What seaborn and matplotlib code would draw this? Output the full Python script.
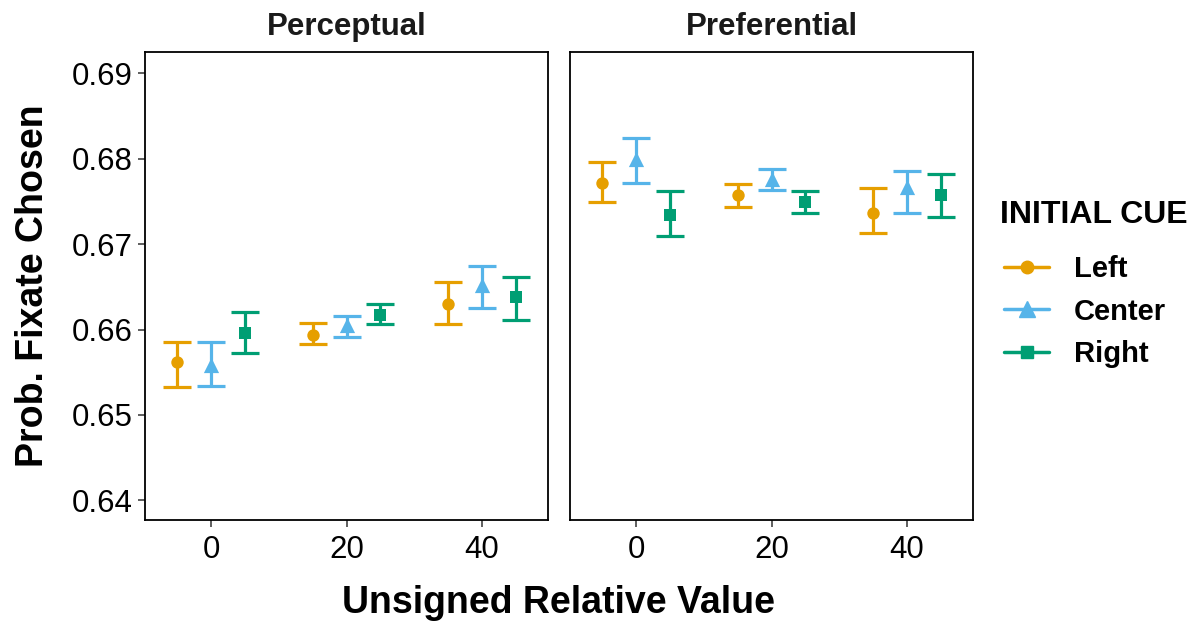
import numpy as np
import pandas as pd
import matplotlib
matplotlib.use("Agg")
import matplotlib.pyplot as plt
import seaborn as sns
from matplotlib.lines import Line2D

# ---- data ----
panels = ["Perceptual", "Preferential"]
cues = ["Left", "Center", "Right"]
values = [0, 20, 40]
offsets = {"Left": -5, "Center": 0, "Right": 5}

# Perceptual: per cue, per value (0, 20, 40)
perc_mean = {"Left": [0.6562, 0.6594, 0.6630],
             "Center": [0.6558, 0.6605, 0.6652],
             "Right": [0.6596, 0.6617, 0.6638]}
perc_lo = {"Left": [0.6533, 0.6583, 0.6607],
           "Center": [0.6534, 0.6591, 0.6625],
           "Right": [0.6572, 0.6606, 0.6611]}
perc_hi = {"Left": [0.6585, 0.6608, 0.6656],
           "Center": [0.6585, 0.6616, 0.6674],
           "Right": [0.6621, 0.6630, 0.6661]}

pref_mean = {"Left": [0.6772, 0.6757, 0.6737],
             "Center": [0.6800, 0.6776, 0.6767],
             "Right": [0.6734, 0.6749, 0.6757]}
pref_lo = {"Left": [0.6749, 0.6744, 0.6713],
           "Center": [0.6772, 0.6763, 0.6736],
           "Right": [0.6710, 0.6736, 0.6732]}
pref_hi = {"Left": [0.6796, 0.6770, 0.6766],
           "Center": [0.6824, 0.6788, 0.6786],
           "Right": [0.6762, 0.6762, 0.6782]}

colors = {"Left": "#E69F00", "Center": "#56B4E9", "Right": "#009E73"}
markers = {"Left": "o", "Center": "^", "Right": "s"}
msize = {"Left": 80, "Center": 120, "Right": 85}

rows = []
for panel, (m, lo, hi) in zip(panels, [(perc_mean, perc_lo, perc_hi),
                                        (pref_mean, pref_lo, pref_hi)]):
    for cue in cues:
        for i, v in enumerate(values):
            rows.append(dict(panel=panel, cue=cue, value=v,
                             x=v + offsets[cue], mean=m[cue][i],
                             lo=lo[cue][i], hi=hi[cue][i]))
df = pd.DataFrame(rows)

sns.set_theme(style="white")
plt.rcParams["font.family"] = ["Liberation Sans", "DejaVu Sans"]
plt.rcParams["text.color"] = "black"

fig = plt.figure(figsize=(11.93, 6.23), dpi=100)
W, H = 1193, 623
def add_ax(x0, x1, y0, y1):
    return fig.add_axes([x0 / W, 1 - y1 / H, (x1 - x0) / W, (y1 - y0) / H])

axes = [add_ax(145, 548, 52, 520), add_ax(570, 973, 52, 520)]

for ax, panel in zip(axes, panels):
    sub = df[df.panel == panel]
    for cue in cues:
        s = sub[sub.cue == cue]
        ax.errorbar(s["x"], s["mean"],
                    yerr=[s["mean"] - s["lo"], s["hi"] - s["mean"]],
                    fmt="none", ecolor=colors[cue], elinewidth=2.3,
                    capsize=10, capthick=2.3, zorder=2)
        sns.scatterplot(data=s, x="x", y="mean", color=colors[cue],
                        marker=markers[cue], s=msize[cue], linewidth=0,
                        ax=ax, legend=False, zorder=3)
    ax.set_xlim(-9.8, 49.8)
    ax.set_ylim(0.6377, 0.6925)
    ax.set_xticks(values)
    ax.set_xticklabels([str(v) for v in values])
    ax.set_yticks([0.64, 0.65, 0.66, 0.67, 0.68, 0.69])
    ax.set_xlabel("")
    ax.set_ylabel("")
    for sp in ax.spines.values():
        sp.set_visible(True)
        sp.set_color("black")
        sp.set_linewidth(1.3)
    ax.tick_params(axis="both", which="both", direction="out", length=5,
                   width=1.1, color="#333333", labelsize=22.5,
                   labelcolor="black", pad=4, bottom=True, left=True)
    ax.tick_params(axis="x", pad=6)
    ax.set_title(panel, fontsize=22.5, fontweight="bold", color="#1A1A1A",
                 pad=12)
    ax.grid(False)

axes[1].set_yticklabels([])
axes[1].tick_params(axis="y", length=0)

fig.text(559 / W, 1 - 603 / H, "Unsigned Relative Value", ha="center",
         va="center", fontsize=27, fontweight="bold", color="black")
fig.text(33 / W, 1 - 286 / H, "Prob. Fixate Chosen", ha="center",
         va="center", rotation=90, fontsize=27, fontweight="bold",
         color="black")

# legend title
fig.text(1000 / W, 1 - 215 / H, "INITIAL CUE", ha="left", va="center",
         fontsize=23, fontweight="bold", color="black")
handles = [Line2D([0], [0], color=colors[c], marker=markers[c], lw=2.5,
                  markersize=9 if c != "Center" else 11) for c in cues]
leg = fig.legend(handles, cues,
                 loc="upper left", bbox_to_anchor=(1004 / W, 1 - 255 / H),
                 frameon=False, fontsize=21,
                 handlelength=1.55, labelspacing=0.50, handletextpad=0.85,
                 borderaxespad=0, borderpad=0)
for t in leg.get_texts():
    t.set_fontweight("bold")

fig.savefig("out.png", dpi=100)
